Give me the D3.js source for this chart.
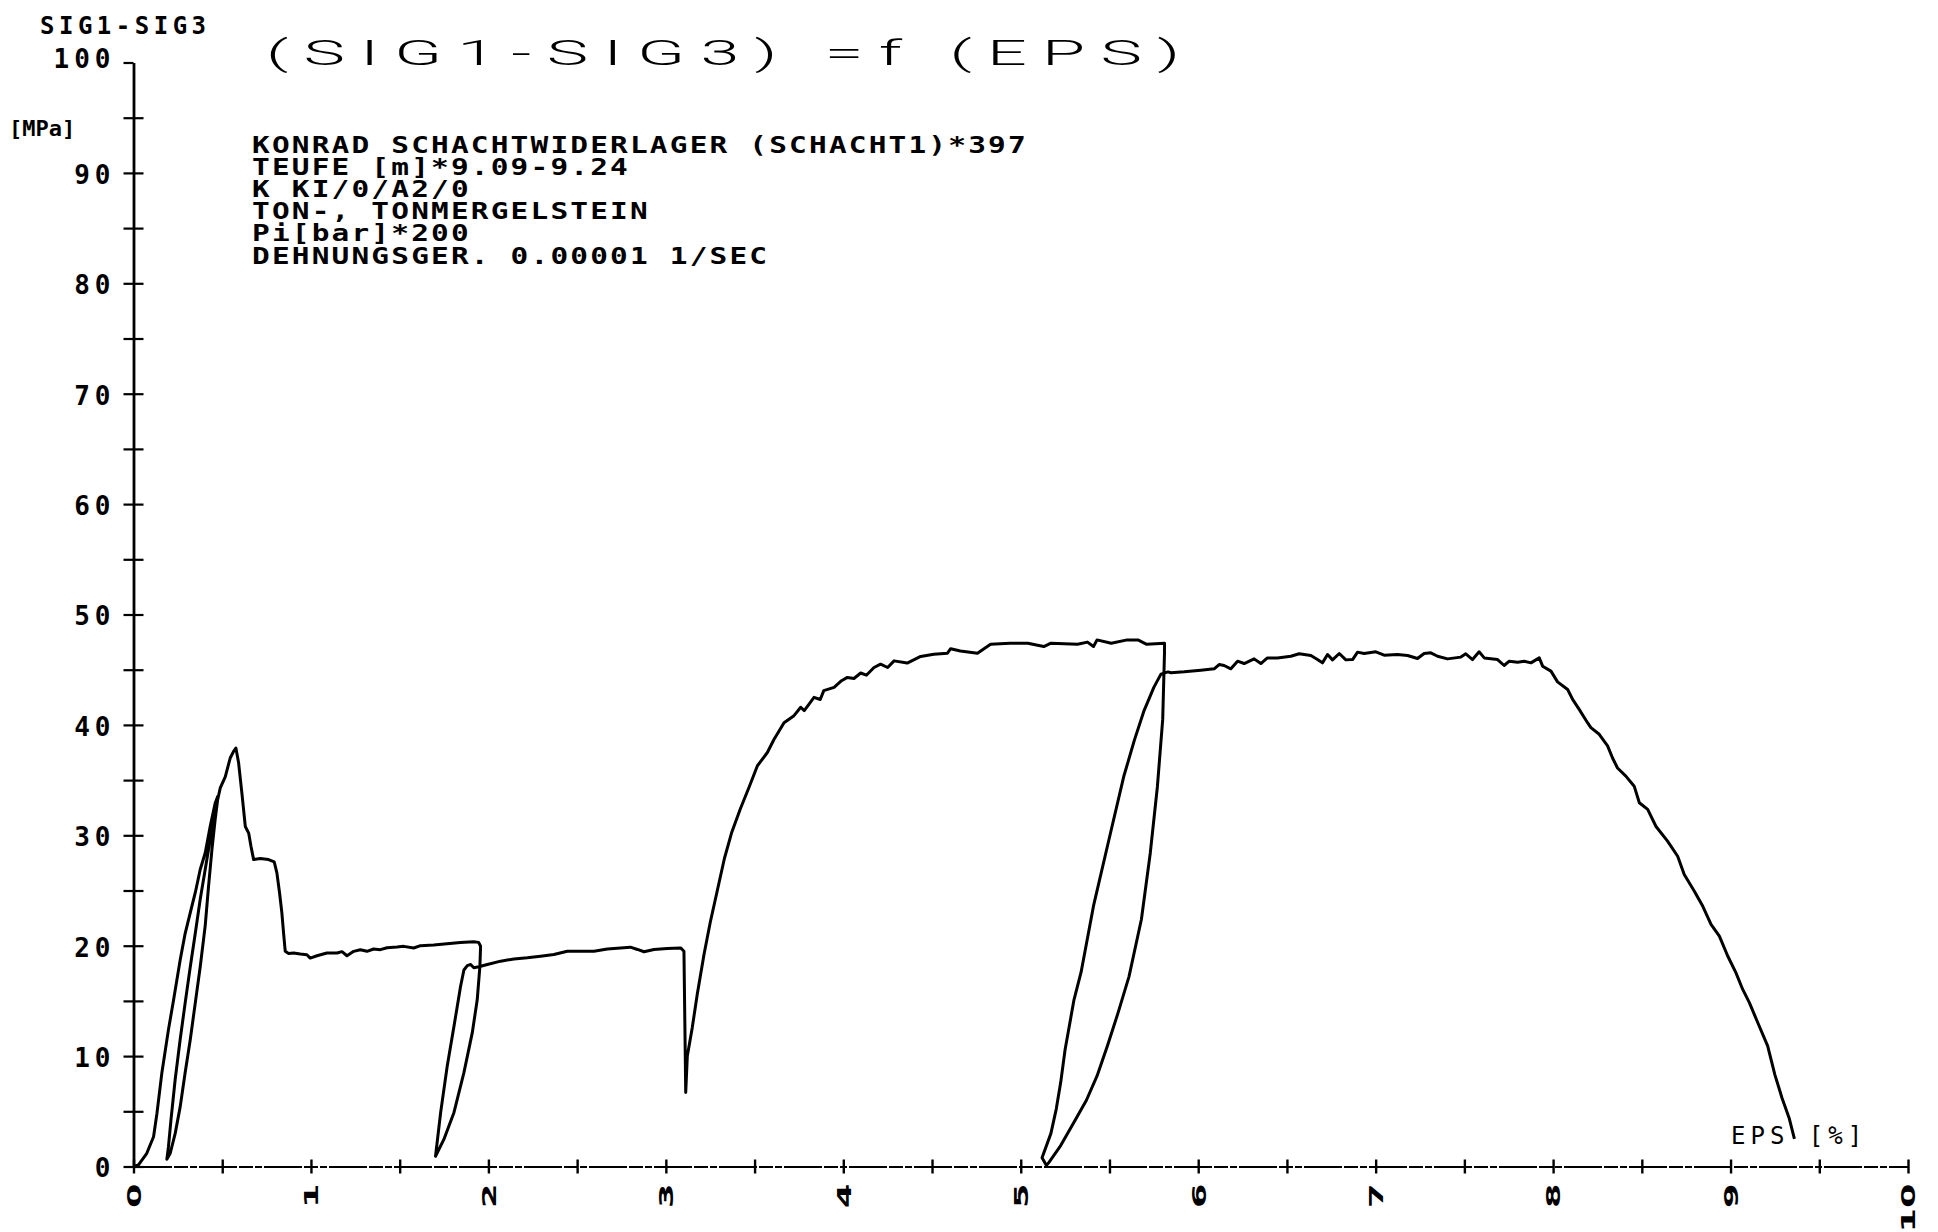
<!DOCTYPE html>
<html>
<head>
<meta charset="utf-8">
<script src="https://cdn.jsdelivr.net/npm/d3@7"></script>
<style>
 body { margin: 0; background: #fff; }
 svg { display: block; }
</style>
</head>
<body>
<svg width="1938" height="1232"></svg>
<script>
// Curve, split into its pieces: [EPS %, SIG1-SIG3 MPa]

var loading1 = [[0,0],[0.028,0.15],[0.075,1.2],[0.113,2.7],[0.132,4.8],[0.16,8.5],[0.197,12.4],[0.226,15.1],[0.263,18.7],[0.291,21.1],[0.32,23.0],[0.348,24.8],[0.376,26.9],[0.404,28.4],[0.432,30.8],[0.46,32.9],[0.474,33.5]];
var unload1 = [[0.451,31.7],[0.429,29.3],[0.404,26.9],[0.376,24.2],[0.348,21.1],[0.32,18.1],[0.291,14.8],[0.263,11.5],[0.235,7.9],[0.211,4.2],[0.197,1.8],[0.188,0.66]];
var reload1 = [[0.207,1.2],[0.235,3.0],[0.263,5.4],[0.291,8.5],[0.32,11.5],[0.348,14.8],[0.376,18.1],[0.404,21.8],[0.423,25.4],[0.442,28.7],[0.46,31.4],[0.474,33.2],[0.489,34.3],[0.517,35.3],[0.545,37.0],[0.564,37.6],[0.577,37.9]];
var softening1 = [[0.592,36.6],[0.611,33.8],[0.63,30.8],[0.649,30.2],[0.662,29.0],[0.677,27.8],[0.714,27.9],[0.761,27.8],[0.793,27.6],[0.808,26.6],[0.823,24.8],[0.836,23.0],[0.846,21.1],[0.855,19.5],[0.874,19.3]];
var plateau1 = [[0.902,19.34],[0.94,19.24],[0.977,19.18],[0.996,18.88],[1.034,19.09],[1.09,19.34],[1.147,19.34],[1.175,19.46],[1.203,19.09],[1.241,19.49],[1.278,19.64],[1.316,19.49],[1.353,19.7],[1.391,19.64],[1.429,19.82],[1.485,19.88],[1.523,19.94],[1.579,19.79],[1.617,20.0],[1.692,20.06],[1.767,20.18],[1.842,20.3],[1.917,20.36],[1.945,20.3],[1.956,19.95]];
var unload2 = [[1.952,18.1],[1.937,15.1],[1.909,12.1],[1.862,8.5],[1.806,4.9],[1.749,2.45],[1.702,0.93]];
var reload2 = [[1.731,4.9],[1.768,9.1],[1.806,12.7],[1.843,16.3],[1.862,17.8],[1.881,18.2],[1.9,18.3],[1.918,18.0],[1.946,18.1],[1.994,18.3],[2.069,18.6],[2.144,18.8],[2.219,18.9],[2.294,19.05],[2.369,19.2],[2.445,19.5],[2.52,19.5],[2.595,19.5],[2.67,19.7],[2.745,19.8],[2.8,19.87],[2.84,19.66],[2.877,19.45],[2.933,19.66],[3.008,19.75],[3.083,19.8],[3.102,19.5],[3.112,6.7]];
var loading3 = [[3.121,10.0],[3.149,12.6],[3.177,15.6],[3.215,19.2],[3.25,22.1],[3.29,25.0],[3.33,27.9],[3.37,30.2],[3.42,32.4],[3.47,34.4],[3.516,36.3],[3.572,37.5],[3.61,38.7],[3.666,40.2],[3.72,40.8],[3.76,41.6],[3.78,41.3],[3.835,42.5],[3.87,42.3],[3.89,43.1],[3.948,43.4],[3.99,44.0],[4.023,44.3],[4.06,44.2],[4.098,44.7],[4.13,44.5],[4.173,45.2],[4.21,45.5],[4.25,45.2],[4.286,45.8],[4.36,45.6],[4.436,46.2],[4.51,46.4],[4.587,46.5],[4.605,46.9],[4.66,46.7],[4.756,46.5],[4.83,47.3],[4.94,47.4],[5.04,47.4],[5.13,47.1],[5.17,47.4],[5.32,47.3],[5.376,47.5],[5.41,47.1],[5.43,47.7],[5.51,47.4],[5.6,47.7],[5.66,47.7],[5.71,47.3],[5.81,47.4]];
var unload3 = [[5.81,46.5],[5.8,40.5],[5.77,34.4],[5.73,28.4],[5.68,22.4],[5.61,17.2],[5.55,14.0],[5.49,11.0],[5.43,8.2],[5.37,6.0],[5.3,4.0],[5.225,1.9],[5.16,0.4],[5.145,0.1]];
var reload3 = [[5.12,0.8],[5.17,3.0],[5.2,5.2],[5.225,7.6],[5.25,10.6],[5.28,13.3],[5.3,15.1],[5.34,17.6],[5.41,23.6],[5.51,30.5],[5.58,35.3],[5.64,38.6],[5.695,41.3],[5.75,43.4],[5.79,44.6],[5.83,44.8]];
var plateau3 = [[5.846,44.72],[5.921,44.81],[6.015,44.96],[6.09,45.08],[6.118,45.47],[6.146,45.38],[6.184,45.08],[6.222,45.77],[6.259,45.56],[6.315,45.98],[6.353,45.56],[6.39,46.07],[6.447,46.07],[6.522,46.22],[6.569,46.44],[6.635,46.29],[6.672,45.92],[6.7,45.62],[6.729,46.38],[6.757,45.89],[6.795,46.47],[6.832,45.89],[6.87,45.92],[6.898,46.59],[6.935,46.47],[7.001,46.62],[7.048,46.32],[7.123,46.38],[7.18,46.29],[7.236,46.01],[7.273,46.47],[7.311,46.53],[7.349,46.22],[7.405,45.98],[7.48,46.14],[7.508,46.44],[7.546,45.92],[7.583,46.62],[7.612,46.07],[7.687,45.92],[7.724,45.38],[7.753,45.77],[7.8,45.68],[7.837,45.77],[7.875,45.62],[7.922,46.07],[7.941,45.32],[7.988,44.87]];
var failure = [[8.025,43.9],[8.082,43.21],[8.11,42.31],[8.147,41.41],[8.194,40.2],[8.213,39.75],[8.26,39.15],[8.307,38.1],[8.335,37.0],[8.363,36.1],[8.41,35.36],[8.457,34.45],[8.486,32.95],[8.533,32.35],[8.58,30.8],[8.645,29.47],[8.702,28.1],[8.739,26.45],[8.796,24.94],[8.843,23.59],[8.89,21.93],[8.937,20.87],[8.984,19.07],[9.03,17.56],[9.068,16.06],[9.106,14.85],[9.153,13.04],[9.209,10.93],[9.25,8.3],[9.29,6.2],[9.33,4.4],[9.36,2.5]];

var yTicks = [0, 5, 10, 15, 20, 25, 30, 35, 40, 45, 50, 55, 60, 65, 70, 75, 80, 85, 90, 95, 100];
var xTicks = [0, 0.5, 1, 1.5, 2, 2.5, 3, 3.5, 4, 4.5, 5, 5.5, 6, 6.5, 7, 7.5, 8, 8.5, 9, 9.5, 10];

var title = '(SIG1-SIG3) =f (EPS)';
var yName = 'SIG1-SIG3';
var yUnit = '[MPa]';
var xName = 'EPS [%]';
var infoLines = [
 'KONRAD SCHACHTWIDERLAGER (SCHACHT1)*397',
 'TEUFE [m]*9.09-9.24',
 'K KI/0/A2/0',
 'TON-, TONMERGELSTEIN',
 'Pi[bar]*200',
 'DEHNUNGSGER. 0.00001 1/SEC'
];

var curve = [].concat(loading1, unload1, reload1, softening1, plateau1, unload2, reload2,
 loading3, unload3, reload3, plateau3, failure);

// Scales, in page pixels

var svg = d3.select('svg');
var x = d3.scaleLinear().domain([0, 10]).range([133.5, 1908]);
var y = d3.scaleLinear().domain([0, 100]).range([1166.5, 62.5]);

var mono = '"DejaVu Sans Mono", "Liberation Mono", monospace';

// Y axis: cross ticks every 5, labels every 10

var yAxis = svg.append('g')
 .attr('transform', 'translate(' + x(0) + ',0)')
 .call(d3.axisLeft(y)
  .tickValues(yTicks)
  .tickSize(10)
  .tickSizeOuter(0)
  .tickFormat(function(d) { return d % 10 === 0 ? d : ''; }));

yAxis.select('.domain').attr('stroke', '#000').attr('stroke-width', 2.8);
yAxis.selectAll('.tick line')
 .attr('stroke', '#000')
 .attr('stroke-width', 2.2)
 .attr('x1', function(d) { return d === 100 ? 0 : 10; });
yAxis.selectAll('.tick text')
 .attr('x', -18)
 .attr('dy', function(d) { return d === 100 ? '0.2em' : '0.4em'; })
 .attr('fill', '#000')
 .style('font-family', mono)
 .style('font-weight', 'bold')
 .style('font-size', '26px')
 .style('letter-spacing', '5px');

// X axis: cross ticks every 0.5, rotated labels every 1

var xAxis = svg.append('g')
 .attr('transform', 'translate(0,' + y(0) + ')')
 .call(d3.axisBottom(x)
  .tickValues(xTicks)
  .tickSize(7)
  .tickSizeOuter(0)
  .tickFormat(function(d) { return d % 1 === 0 ? d : ''; }));

xAxis.select('.domain')
 .attr('stroke', '#000')
 .attr('stroke-width', 1.8)
 .attr('stroke-dasharray', '38,2,14,2,7,2');
xAxis.selectAll('.tick line')
 .attr('stroke', '#000')
 .attr('stroke-width', 2.4)
 .attr('y1', -7);
xAxis.selectAll('.tick text')
 .attr('y', null)
 .attr('dy', '0.36em')
 .attr('text-anchor', 'end')
 .attr('transform', 'translate(0,17) rotate(-90) scale(1.85,1)')
 .attr('fill', '#000')
 .style('font-family', '"DejaVu Sans", sans-serif')
 .style('font-weight', 'bold')
 .style('font-size', '19px');

// The measured curve

var line = d3.line()
 .x(function(d) { return x(d[0]); })
 .y(function(d) { return y(d[1]); });

svg.append('path')
 .datum(curve)
 .attr('d', line)
 .attr('fill', 'none')
 .attr('stroke', '#000')
 .attr('stroke-width', 3)
 .attr('stroke-linejoin', 'round');

// Texts

svg.append('text')
 .attr('x', 40).attr('y', 34)
 .style('font-family', mono).style('font-weight', 'bold')
 .style('font-size', '24px').style('letter-spacing', '4.5px')
 .text(yName);

svg.append('text')
 .attr('x', 9).attr('y', 136)
 .style('font-family', mono).style('font-weight', 'bold')
 .style('font-size', '22px')
 .text(yUnit);

svg.append('text')
 .attr('transform', 'translate(266,65) scale(2,1)')
 .attr('textLength', 457)
 .style('font-family', 'Roboto, Lato, "DejaVu Sans", sans-serif')
 .style('font-weight', 300)
 .style('font-size', '35px')
 .text(title);

// Info block: tight lines, as in the plotter print

svg.append('g').selectAll('text')
 .data(infoLines)
 .enter().append('text')
 .attr('transform', function(d, i) { return 'translate(252,' + (153 + i * 22.1) + ') scale(1.28,1)'; })
 .style('font-family', mono).style('font-weight', 'bold')
 .style('font-size', '23px').style('letter-spacing', '1.7px')
 .text(function(d) { return d; });

svg.append('text')
 .attr('x', 1731).attr('y', 1144)
 .style('font-family', mono)
 .style('font-size', '24px').style('letter-spacing', '5px')
 .text(xName);
</script>
</body>
</html>
